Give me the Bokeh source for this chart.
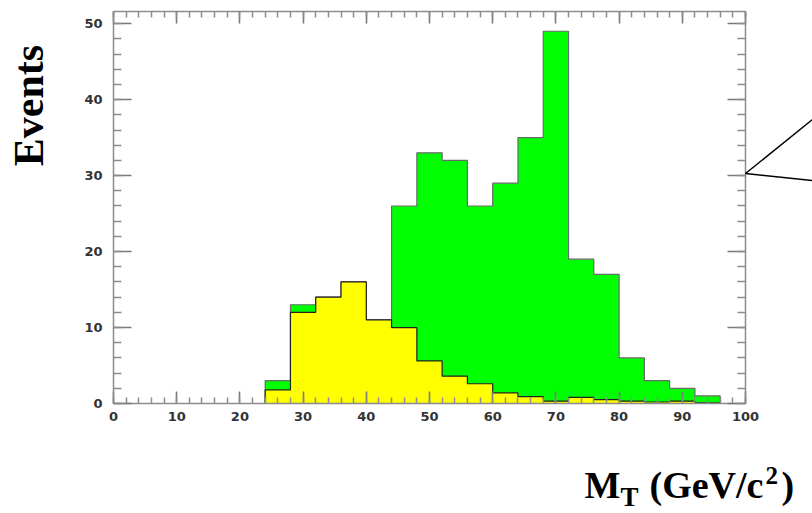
import numpy as np
from bokeh.plotting import figure
from bokeh.models import LinearAxis, SingleIntervalTicker, Range1d, Label, Arrow
from bokeh.embed import file_html
from bokeh.resources import INLINE

# ---- data ----
bin_edges = [24, 28, 32, 36, 40, 44, 48, 52, 56, 60, 64, 68, 72, 76, 80, 84, 88, 92, 96]
total_counts = [3, 13, 14, 16, 11, 26, 33, 32, 26, 29, 35, 49, 19, 17, 6, 3, 2, 1]
background_counts = [1.8, 12, 14, 16, 11, 10, 5.6, 3.6, 2.6, 1.4, 0.9, 0.3, 0.8, 0.5, 0.3, 0.2, 0.3, 0.1]
x_limits = (0, 100)
y_limits = (0, 51.6)
y_title = "Events"

# ---- layout (pixels) ----
W, H = 812, 513
FRAME_L, FRAME_R, FRAME_T, FRAME_B = 113, 745, 11, 403


def step_outline(edges, counts):
    xs, ys = [edges[0]], [0]
    for i, c in enumerate(counts):
        xs += [edges[i], edges[i + 1]]
        ys += [c, c]
    xs.append(edges[-1])
    ys.append(0)
    return xs, ys


# data ranges extended so the drawing area covers the whole canvas
ppx = (FRAME_R - FRAME_L) / (x_limits[1] - x_limits[0])
ppy = (FRAME_B - FRAME_T) / (y_limits[1] - y_limits[0])
xr = Range1d(x_limits[0] - FRAME_L / ppx, x_limits[1] + (W - FRAME_R) / ppx)
yr = Range1d(y_limits[0] - (H - FRAME_B) / ppy, y_limits[1] + FRAME_T / ppy)

p = figure(width=W, height=H, x_range=xr, y_range=yr,
           output_backend="svg", toolbar_location=None,
           min_border=0, x_axis_location=None, y_axis_location=None)
p.grid.visible = False
p.outline_line_color = None
p.background_fill_color = "white"
p.border_fill_color = "white"

gx, gy = step_outline(bin_edges, total_counts)
p.patch(gx, gy, fill_color="#00ff00", line_color="#6a6a6a", line_width=1.2)
yx, yy = step_outline(bin_edges, background_counts)
p.patch(yx, yy, fill_color="#ffff00", line_color="#202020", line_width=1.2)


def make_axis(kind, loc, show_labels):
    bounds = x_limits if kind == "x" else y_limits
    ax = LinearAxis(ticker=SingleIntervalTicker(interval=10, num_minor_ticks=5),
                    fixed_location=loc, bounds=bounds)
    ax.axis_line_color = "#8c8c8c"
    ax.axis_line_width = 1.5
    ax.major_tick_line_color = "#7a7a7a"
    ax.minor_tick_line_color = "#8c8c8c"
    ax.major_tick_line_width = 1.6
    ax.minor_tick_line_width = 1.5
    ax.major_tick_out = 0
    ax.minor_tick_out = 0
    if kind == "y":
        ax.major_tick_in = 18
        ax.minor_tick_in = 8
    else:
        ax.major_tick_in = 12
        ax.minor_tick_in = 6
    ax.major_label_text_font = "DejaVu Sans"
    ax.major_label_text_font_style = "bold"
    ax.major_label_text_font_size = "13px"
    if show_labels:
        ax.major_label_text_color = "#333333"
        ax.major_label_standoff = 11 if kind == "y" else 8
    else:
        ax.major_label_text_color = None
    return ax


p.add_layout(make_axis("x", y_limits[0], True), "below")
p.add_layout(make_axis("y", x_limits[0], True), "left")
p.add_layout(make_axis("x", y_limits[1], False), "above")
p.add_layout(make_axis("y", x_limits[1], False), "right")

# y-axis title (screen units measured from the bottom-left of the canvas)
p.add_layout(Label(x=28, y=H - 105, x_units="screen", y_units="screen", text=y_title,
                   angle=np.pi / 2, text_align="center", text_baseline="middle",
                   text_font="Liberation Serif", text_font_style="bold",
                   text_font_size="42px", text_color="black"))

# x-axis title "M_T (GeV/c^2)" built from pieces: (text, left x, baseline y from top, size)
title_parts = [("M", 584, 497, 38), ("T", 620, 506, 27), ("(GeV/c", 649, 497, 38),
               ("2", 765, 483, 25), (")", 781, 497, 38)]
for txt, x0, base, fs in title_parts:
    p.add_layout(Label(x=x0, y=H - (base - 0.34 * fs), x_units="screen", y_units="screen",
                       text=txt, text_align="left", text_baseline="middle",
                       text_font="Liberation Serif", text_font_style="bold",
                       text_font_size=f"{fs}px", text_color="black"))

# callout lines leaving the right frame edge at the 30 tick
for ey in (119, 180):
    p.add_layout(Arrow(x_start=FRAME_R, y_start=H - 173, x_end=W, y_end=H - ey,
                       start_units="screen", end_units="screen",
                       start=None, end=None, line_color="black", line_width=1.5))

open("out.html", "w").write(file_html(p, INLINE))
